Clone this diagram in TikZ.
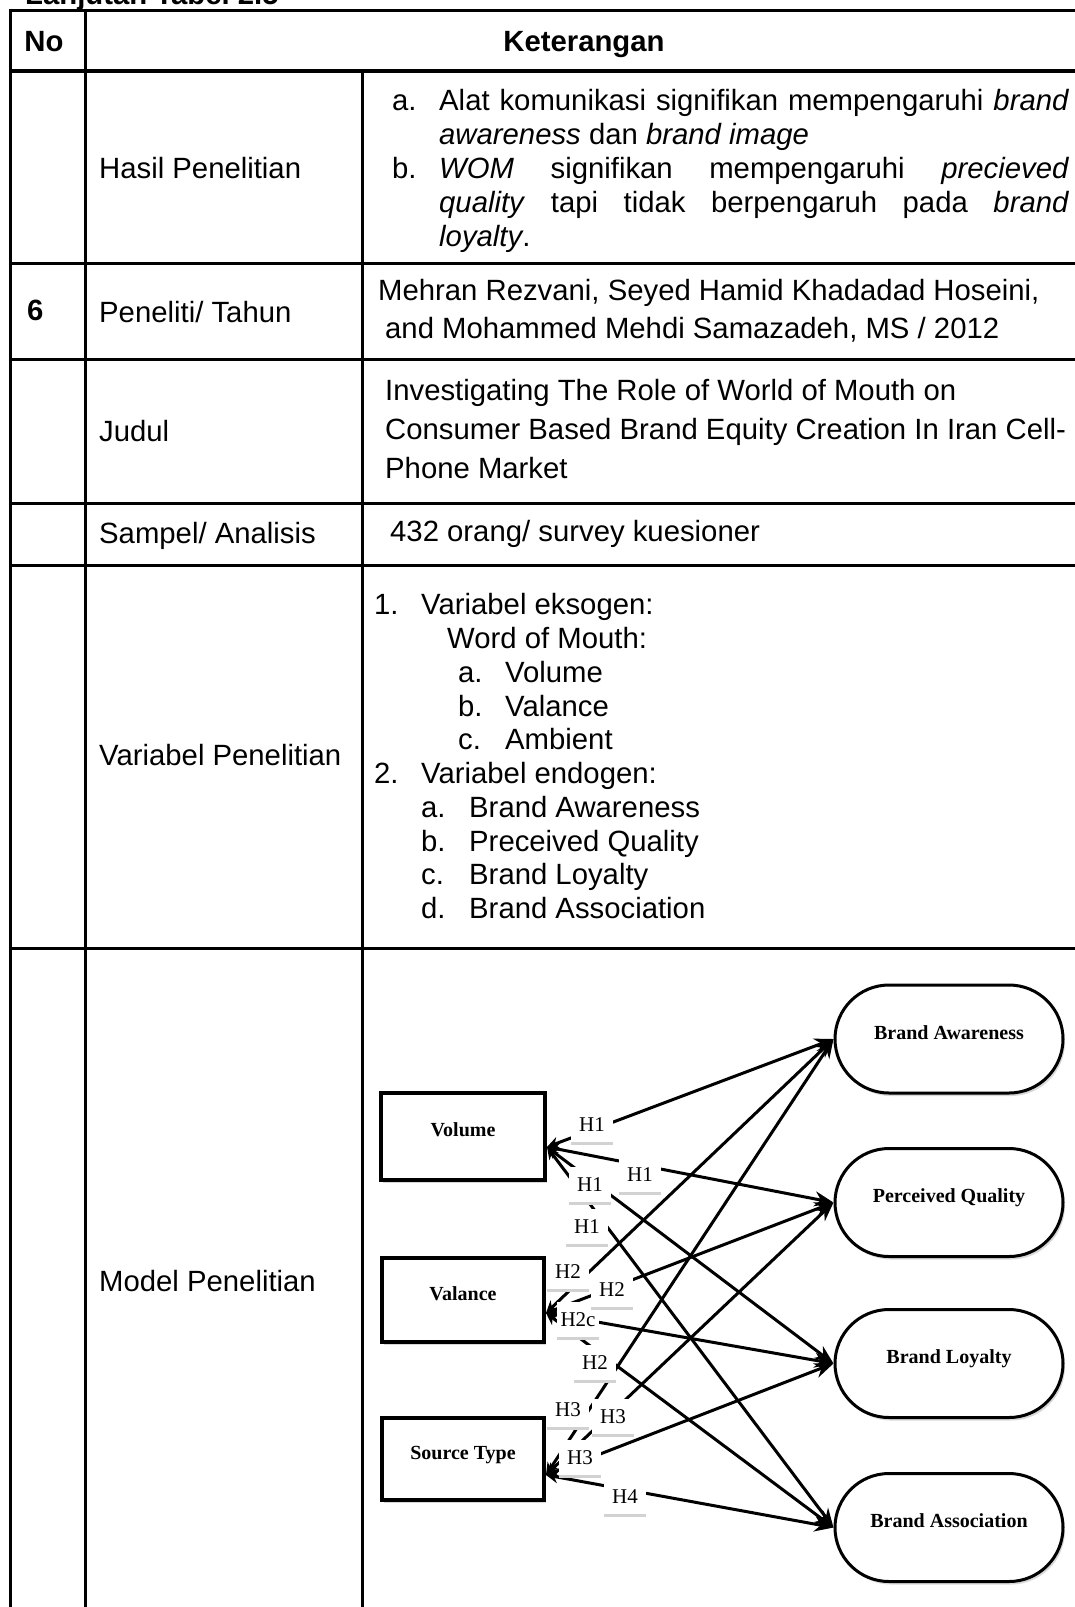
\documentclass[tikz,border=0pt]{standalone}
\usepackage{fontspec}
\setmainfont{Liberation Sans}
\newfontfamily\diagfont{Liberation Serif}
\usetikzlibrary{arrows.meta,shadows,calc}

\begin{document}
\begin{tikzpicture}[x=1pt,y=-1pt,
  rule/.style={line width=3pt},
  txt/.style={anchor=base west, inner sep=0pt, font=\fontsize{29.3pt}{33.8pt}\selectfont},
  hdr/.style={anchor=base, inner sep=0pt, font=\bfseries\fontsize{29.3pt}{33.8pt}\selectfont},
  srcbox/.style={draw, line width=4pt, fill=white, inner sep=0pt,
    text height=10pt, text depth=10pt,
    font=\diagfont\bfseries\fontsize{20pt}{24pt}\selectfont,
    drop shadow={shadow xshift=2pt, shadow yshift=-3pt, fill=gray!60, opacity=0.5}},
  pill/.style={draw, line width=3pt, fill=white, inner sep=0pt,
    rounded corners=54pt, minimum width=228pt, minimum height=108pt,
    text height=10pt, text depth=10pt,
    font=\diagfont\bfseries\fontsize{20pt}{24pt}\selectfont,
    drop shadow={shadow xshift=2pt, shadow yshift=-3pt, fill=gray!60, opacity=0.5}},
  conn/.style={line width=3pt,
    {Stealth[length=12pt,width=12pt]}-{Stealth[length=19pt,width=15pt]}},
  lab/.style={fill=white, inner sep=0pt, minimum width=42pt, minimum height=36pt,
    text height=13pt, text depth=0pt,
    font=\diagfont\fontsize{21pt}{25pt}\selectfont},
  labbar/.style={draw=gray!35, line width=3pt}
]
\useasboundingbox (0,0) rectangle (1075,1607);

% caption of the continued table, cut at the top edge
\begin{scope}
  \clip (0,0) rectangle (1075,1607);
  \node[txt, font=\bfseries\fontsize{29.3pt}{33.8pt}\selectfont] (caption) at (25,4) {Lanjutan Tabel 2.5};
\end{scope}

% table rules
\draw[rule] (10,10) -- (1075,10);
\draw[line width=4pt] (10,71) -- (1075,71);
\foreach \yy in {263,359,503,565,948}
  \draw[rule] (10,\yy) -- (1075,\yy);
\draw[rule] (10,8.5) -- (10,1607);
\draw[rule] (85,8.5) -- (85,1607);
\draw[rule] (362,71) -- (362,1607);

% header
\node[hdr] (h-no) at (44,51) {No};
\node[hdr] (h-ket) at (584,51) {Keterangan};

% row: Hasil Penelitian
\node[txt] (r1) at (99,178) {Hasil Penelitian};
\node[txt] (r1a) at (392,110) {a.};
\node[txt] (r1a1) at (439,110) {\makebox[630pt][s]{Alat komunikasi signifikan mempengaruhi \textit{brand}}};
\node[txt] (r1a2) at (439,144) {\textit{awareness} dan \textit{brand image}};
\node[txt] (r1b) at (392,178) {b.};
\node[txt] (r1b1) at (439,178) {\makebox[630pt][s]{\textit{WOM} signifikan mempengaruhi \textit{precieved}}};
\node[txt] (r1b2) at (439,212) {\makebox[630pt][s]{\textit{quality} tapi tidak berpengaruh pada \textit{brand}}};
\node[txt] (r1b3) at (439,246) {\textit{loyalty}.};

% row: Peneliti / Tahun
\node[txt, font=\bfseries\fontsize{29.3pt}{33.8pt}\selectfont] (r2no) at (27,320) {6};
\node[txt] (r2) at (99,322) {Peneliti/ Tahun};
\node[txt] (r2a) at (378,300) {Mehran Rezvani, Seyed Hamid Khadadad Hoseini,};
\node[txt] (r2b) at (385,338) {and Mohammed Mehdi Samazadeh, MS / 2012};

% row: Judul
\node[txt] (r3) at (99,441) {Judul};
\node[txt] (r3a) at (385,400) {Investigating The Role of World of Mouth on};
\node[txt] (r3b) at (385,439) {Consumer Based Brand Equity Creation In Iran Cell-};
\node[txt] (r3c) at (385,478) {Phone Market};

% row: Sampel / Analisis
\node[txt] (r4) at (99,543) {Sampel/ Analisis};
\node[txt] (r4a) at (390,541) {432 orang/ survey kuesioner};

% row: Variabel Penelitian
\node[txt] (r5) at (99,765) {Variabel Penelitian};
\node[txt] (v1) at (374,614) {1.};
\node[txt] (v1t) at (421,614) {Variabel eksogen:};
\node[txt] (v1w) at (447,648) {Word of Mouth:};
\node[txt] (v1a) at (458,682) {a.};
\node[txt] (v1at) at (505,682) {Volume};
\node[txt] (v1b) at (458,716) {b.};
\node[txt] (v1bt) at (505,716) {Valance};
\node[txt] (v1c) at (458,749) {c.};
\node[txt] (v1ct) at (505,749) {Ambient};
\node[txt] (v2) at (374,783) {2.};
\node[txt] (v2t) at (421,783) {Variabel endogen:};
\node[txt] (v2a) at (421,817) {a.};
\node[txt] (v2at) at (469,817) {Brand Awareness};
\node[txt] (v2b) at (421,851) {b.};
\node[txt] (v2bt) at (469,851) {Preceived Quality};
\node[txt] (v2c) at (421,884) {c.};
\node[txt] (v2ct) at (469,884) {Brand Loyalty};
\node[txt] (v2d) at (421,918) {d.};
\node[txt] (v2dt) at (469,918) {Brand Association};

% row: Model Penelitian
\node[txt] (r6) at (99,1291) {Model Penelitian};

% research model: word-of-mouth dimensions
\node[srcbox, minimum width=164pt, minimum height=87pt] (vol) at (463,1136.5) {Volume};
\node[srcbox, minimum width=162pt, minimum height=84pt] (val) at (463,1300) {Valance};
\node[srcbox, minimum width=162pt, minimum height=82pt] (src) at (463,1459) {Source Type};

% brand equity dimensions
\node[pill] (aw) at (949,1039) {Brand Awareness};
\node[pill] (pq) at (949,1202.5) {Perceived Quality};
\node[pill] (bl) at (949,1363.5) {Brand Loyalty};
\node[pill] (as) at (949,1527.5) {Brand Association};

\coordinate (vol-o) at ($(vol.east)+(0,10.5)$);
\coordinate (val-o) at ($(val.east)+(0,13)$);
\coordinate (src-o) at ($(src.east)+(0,16)$);

% hypothesised paths
\foreach \s in {vol-o,val-o,src-o}
  \foreach \t in {aw,pq,bl,as}
    \draw[conn] (\s) -- (\t.west);

% path labels
\node[lab] (l1) at (592,1125) {H1};
\node[lab] (l3) at (590,1185) {H1};
\node[lab] (l2) at (640,1175) {H1};
\node[lab] (l4) at (587,1227) {H1};
\node[lab] (l5) at (568,1272) {H2};
\node[lab] (l7) at (578,1320) {H2c};
\node[lab] (l6) at (612,1290) {H2};
\node[lab] (l8) at (595,1363) {H2};
\node[lab] (l9) at (568,1410) {H3};
\node[lab] (l10) at (613,1417) {H3};
\node[lab] (l11) at (580,1458) {H3};
\node[lab] (l12) at (625,1497) {H4};
\foreach \n in {l1,l2,l3,l4,l5,l6,l7,l8,l9,l10,l11,l12}
  \draw[labbar] (\n.south west) -- (\n.south east);
\end{tikzpicture}
\end{document}
